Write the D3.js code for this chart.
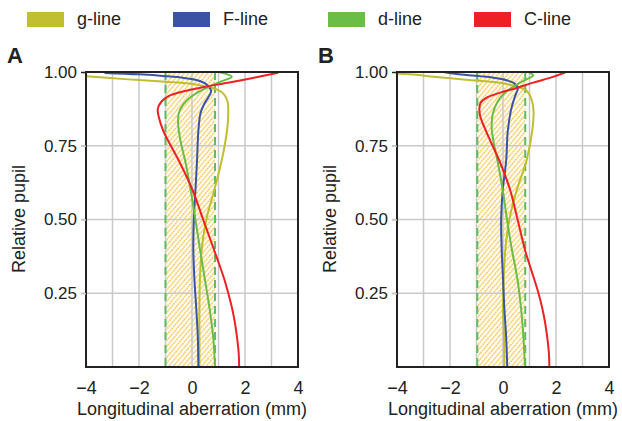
<!DOCTYPE html>
<html>
<head>
<meta charset="utf-8">
<script src="https://cdn.jsdelivr.net/npm/d3@7"></script>
<style>
  body { margin: 0; background: #fff; }
  text { font-family: "Liberation Sans", Arial, sans-serif; fill: #222; }
</style>
</head>
<body>
<div id="chart"></div>
<script>
// legend / series
const seriesNames = ["g-line", "F-line", "d-line", "C-line"];
const seriesColors = ["#bfbf2f", "#3a53a4", "#6abd45", "#ee2024"];

const xTicks = [-4, -2, 0, 2, 4];
const yTicks = [0.25, 0.5, 0.75, 1.0];
const xGrid = [-3, -2, -1, 0, 1, 2, 3];

// [longitudinal aberration (mm), relative pupil], from the axis up to the pupil edge
const gLineA = [[0.28,0],[0.28,0.1],[0.28,0.2],[0.3,0.3],[0.37,0.4],[0.54,0.5],[0.84,0.6],[1.12,0.7],[1.32,0.8],[1.37,0.86],[1.34,0.9],[1.2,0.925],[0.95,0.94],[0.45,0.952],[-0.1,0.961],[-1.0,0.967],[-2.4,0.975],[-4.0,0.986]];
const fLineA = [[0.24,0],[0.22,0.1],[0.16,0.2],[0.09,0.3],[0.05,0.4],[0.07,0.5],[0.13,0.6],[0.19,0.7],[0.24,0.8],[0.32,0.86],[0.45,0.89],[0.6,0.912],[0.72,0.935],[0.55,0.958],[0.2,0.972],[-0.3,0.98],[-1.0,0.986],[-2.0,0.992],[-3.3,0.997]];
const dLineA = [[0.87,0],[0.8,0.1],[0.66,0.2],[0.48,0.3],[0.3,0.4],[0.13,0.5],[-0.05,0.6],[-0.26,0.7],[-0.42,0.76],[-0.52,0.82],[-0.5,0.86],[-0.33,0.89],[-0.05,0.915],[0.3,0.935],[0.7,0.952],[1.1,0.968],[1.5,0.984],[1.0,1.0]];
const cLineA = [[1.78,0],[1.76,0.05],[1.7,0.1],[1.62,0.15],[1.51,0.2],[1.37,0.25],[1.21,0.3],[1.02,0.35],[0.82,0.4],[0.42,0.5],[0.02,0.6],[-0.5,0.7],[-0.8,0.75],[-1.08,0.8],[-1.26,0.85],[-1.29,0.875],[-1.15,0.9],[-0.85,0.92],[-0.3,0.935],[0.5,0.95],[1.45,0.965],[2.3,0.98],[3.25,0.997]];

const gLineB = [[0.05,0],[0.04,0.1],[0.0,0.2],[0.03,0.3],[0.09,0.4],[0.24,0.5],[0.52,0.6],[0.77,0.666],[0.89,0.7],[1.12,0.812],[1.15,0.87],[1.08,0.906],[0.9,0.936],[0.45,0.952],[-0.24,0.965],[-1.2,0.972],[-2.4,0.982],[-3.5,0.992],[-4.0,0.995]];
const fLineB = [[0.16,0],[0.12,0.1],[0.05,0.2],[0.0,0.3],[-0.05,0.4],[-0.07,0.5],[-0.01,0.6],[0.12,0.7],[0.18,0.8],[0.3,0.87],[0.45,0.917],[0.56,0.946],[0.4,0.963],[-0.11,0.977],[-0.87,0.986],[-1.75,0.993],[-2.25,1.0]];
const dLineB = [[0.83,0],[0.77,0.1],[0.68,0.2],[0.54,0.3],[0.33,0.4],[0.15,0.5],[-0.01,0.6],[-0.21,0.7],[-0.35,0.76],[-0.43,0.812],[-0.38,0.86],[-0.2,0.9],[0.1,0.932],[0.52,0.957],[0.9,0.976],[1.14,0.988],[0.96,1.0]];
const cLineB = [[1.75,0],[1.73,0.05],[1.67,0.1],[1.59,0.15],[1.48,0.2],[1.34,0.25],[1.17,0.3],[0.99,0.35],[0.82,0.4],[0.55,0.5],[0.27,0.6],[-0.14,0.7],[-0.43,0.757],[-0.7,0.812],[-0.86,0.85],[-0.89,0.875],[-0.85,0.895],[-0.62,0.913],[-0.11,0.93],[0.52,0.946],[1.14,0.964],[1.77,0.98],[2.34,0.998]];

// tolerance band (dashed lines + hatch)
const bandA = [-1.0, 0.87];
const bandB = [-0.97, 0.84];

const width = 622, height = 421;

const svg = d3.select("#chart").append("svg")
  .attr("width", width)
  .attr("height", height);

const defs = svg.append("defs");
const pat = defs.append("pattern")
  .attr("id", "hatch")
  .attr("patternUnits", "userSpaceOnUse")
  .attr("width", 3.6)
  .attr("height", 10)
  .attr("patternTransform", "rotate(40)");
pat.append("line")
  .attr("x1", 1).attr("y1", 0)
  .attr("x2", 1).attr("y2", 10)
  .attr("stroke", "#f6bb2c")
  .attr("stroke-width", 1.3)
  .attr("stroke-dasharray", "1.8,0.7");

// legend
const legendX = [27, 173, 328, 474];
seriesNames.forEach((name, i) => {
  svg.append("rect")
    .attr("x", legendX[i]).attr("y", 12)
    .attr("width", 37).attr("height", 15)
    .attr("fill", seriesColors[i]);
  svg.append("text")
    .attr("x", legendX[i] + 50).attr("y", 25)
    .attr("font-size", "18px")
    .text(name);
});

function drawPanel(left, letter, curves, band, clipId) {
  const plotW = 212, top = 72, bottom = 367;

  const x = d3.scaleLinear().domain([-4, 4]).range([left, left + plotW]);
  const y = d3.scaleLinear().domain([0, 1]).range([bottom, top]);

  const g = svg.append("g");

  defs.append("clipPath").attr("id", clipId)
    .append("rect")
    .attr("x", left).attr("y", top)
    .attr("width", plotW).attr("height", bottom - top);

  // hatch band
  g.append("rect")
    .attr("x", x(band[0]))
    .attr("y", top)
    .attr("width", x(band[1]) - x(band[0]))
    .attr("height", bottom - top)
    .attr("fill", "url(#hatch)");

  // grid
  g.selectAll(".vgrid")
    .data(xGrid)
    .enter().append("line")
    .attr("x1", d => x(d)).attr("x2", d => x(d))
    .attr("y1", top).attr("y2", bottom)
    .attr("stroke", "#c9c9c9")
    .attr("stroke-width", 1.5);

  g.selectAll(".hgrid")
    .data(yTicks.filter(d => d < 1))
    .enter().append("line")
    .attr("x1", left - 5).attr("x2", left + plotW)
    .attr("y1", d => y(d)).attr("y2", d => y(d))
    .attr("stroke", "#c9c9c9")
    .attr("stroke-width", 1.5);

  // dashed band limits
  g.selectAll(".band")
    .data(band)
    .enter().append("line")
    .attr("x1", d => x(d)).attr("x2", d => x(d))
    .attr("y1", top).attr("y2", bottom)
    .attr("stroke", "#5fba66")
    .attr("stroke-width", 2)
    .attr("stroke-dasharray", "8,5");

  // curves
  const line = d3.line()
    .x(d => x(d[0]))
    .y(d => y(d[1]))
    .curve(d3.curveCatmullRom.alpha(0.5));

  g.append("g")
    .attr("clip-path", `url(#${clipId})`)
    .selectAll("path")
    .data(curves)
    .enter().append("path")
    .attr("d", d => line(d))
    .attr("fill", "none")
    .attr("stroke", (d, i) => seriesColors[i])
    .attr("stroke-width", 2);

  // frame
  g.append("rect")
    .attr("x", left).attr("y", top)
    .attr("width", plotW).attr("height", bottom - top)
    .attr("fill", "none")
    .attr("stroke", "#222")
    .attr("stroke-width", 2);

  // axes
  const yAxis = g.append("g")
    .attr("transform", `translate(${left},0)`)
    .call(d3.axisLeft(y).tickValues(yTicks).tickFormat(d3.format(".2f")).tickSize(5).tickPadding(4));
  yAxis.select(".domain").remove();
  yAxis.selectAll(".tick line")
    .attr("stroke", d => d === 1 ? "#222" : "#c9c9c9")
    .attr("stroke-width", 1.5);
  yAxis.selectAll("text")
    .attr("font-size", "17px")
    .attr("font-family", "Liberation Sans, Arial, sans-serif")
    .attr("fill", "#222");

  const xAxis = g.append("g")
    .attr("transform", `translate(0,${bottom})`)
    .call(d3.axisBottom(x).tickValues(xTicks).tickSize(0).tickPadding(14));
  xAxis.select(".domain").remove();
  xAxis.selectAll("text")
    .attr("font-size", "18px")
    .attr("font-family", "Liberation Sans, Arial, sans-serif")
    .attr("fill", "#222");

  // titles
  g.append("text")
    .attr("x", left + plotW / 2).attr("y", 415)
    .attr("text-anchor", "middle")
    .attr("font-size", "18px")
    .text("Longitudinal aberration (mm)");

  g.append("text")
    .attr("transform", `translate(${left - 61},219) rotate(-90)`)
    .attr("text-anchor", "middle")
    .attr("font-size", "18px")
    .text("Relative pupil");

  g.append("text")
    .attr("x", left - 79).attr("y", 63)
    .attr("font-size", "22px")
    .attr("font-weight", "bold")
    .text(letter);
}

drawPanel(86, "A", [gLineA, fLineA, dLineA, cLineA], bandA, "clipA");
drawPanel(397, "B", [gLineB, fLineB, dLineB, cLineB], bandB, "clipB");
</script>
</body>
</html>
